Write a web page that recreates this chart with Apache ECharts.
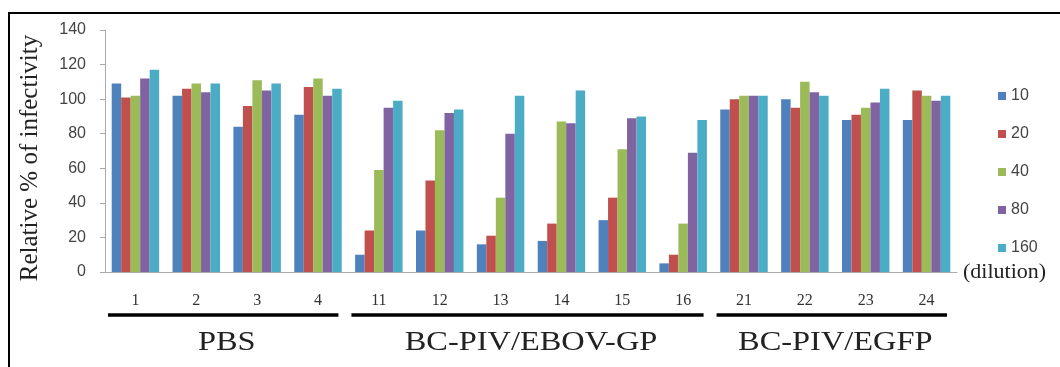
<!DOCTYPE html>
<html>
<head>
<meta charset="utf-8">
<script src="https://cdn.jsdelivr.net/npm/echarts@6/dist/echarts.min.js"></script>
<style>
  html, body { margin: 0; padding: 0; background: #fff; }
  #infectivity { width: 1060px; height: 367px; }
</style>
</head>
<body>
<div id="infectivity"></div>
<script>
// sample numbers on the x axis
var categories = ['1', '2', '3', '4', '11', '12', '13', '14', '15', '16', '21', '22', '23', '24'];
// dilutions (legend)
var dilutions = ['10', '20', '40', '80', '160'];
var colors = ['#4F81BD', '#C0504D', '#9BBB59', '#8064A2', '#4BACC6'];
// relative % of infectivity per dilution
var d10  = [109, 102, 84, 91, 10, 24, 16, 18, 30, 5, 94, 100, 88, 88];
var d20  = [101, 106, 96, 107, 24, 53, 21, 28, 43, 10, 100, 95, 91, 105];
var d40  = [102, 109, 111, 112, 59, 82, 43, 87, 71, 28, 102, 110, 95, 102];
var d80  = [112, 104, 105, 102, 95, 92, 80, 86, 89, 69, 102, 104, 98, 99];
var d160 = [117, 109, 109, 106, 99, 94, 102, 105, 90, 88, 102, 102, 106, 102];
// groups under the axis
var groupNames = ['PBS', 'BC-PIV/EBOV-GP', 'BC-PIV/EGFP'];
var groupFirst = [0, 4, 10];
var groupLast = [3, 9, 13];

var values = [d10, d20, d40, d80, d160];

var myChart = echarts.init(document.getElementById('infectivity'));

var series = [];
for (var i = 0; i < dilutions.length; i++) {
    series.push({
        name: dilutions[i],
        type: 'bar',
        barGap: 0,
        barCategoryGap: '22%',
        itemStyle: { color: colors[i] },
        data: values[i]
    });
}

var option = {
    animation: false,
    color: colors,
    grid: { left: 105, right: 103, top: 30, bottom: 95 },
    legend: {
        orient: 'vertical',
        left: 993,
        top: 83,
        icon: 'rect',
        itemWidth: 8,
        itemHeight: 8,
        itemGap: 22,
        textStyle: { fontSize: 16, lineHeight: 16, color: '#444', fontFamily: 'Liberation Sans' },
        data: dilutions
    },
    xAxis: {
        type: 'category',
        data: categories,
        name: '(dilution)',
        nameLocation: 'end',
        nameGap: 6,
        nameTextStyle: { fontSize: 22, color: '#222', fontFamily: 'Liberation Serif' },
        axisLine: { lineStyle: { color: '#aaa' } },
        axisTick: { length: 4, lineStyle: { color: '#aaa' } },
        axisLabel: { margin: 21, fontSize: 16, color: '#333', fontFamily: 'Liberation Serif' }
    },
    yAxis: {
        type: 'value',
        min: 0,
        max: 140,
        interval: 20,
        name: 'Relative % of infectivity',
        nameLocation: 'middle',
        nameGap: 62,
        nameTextStyle: { fontSize: 25, color: '#222', fontFamily: 'Liberation Serif', padding: [0, 14, 0, 0] },
        axisLine: { show: true, lineStyle: { color: '#aaa' } },
        axisTick: { show: true, length: 5, lineStyle: { color: '#aaa' } },
        axisLabel: { margin: 19, fontSize: 16, color: '#444', fontFamily: 'Liberation Sans' },
        splitLine: { show: false }
    },
    series: series
};
myChart.setOption(option);

// frame, group bars and group names, placed from the category axis
var step = myChart.convertToPixel({ xAxisIndex: 0 }, categories[1]) - myChart.convertToPixel({ xAxisIndex: 0 }, categories[0]);
var lineY = 315;
var graphics = [{
    type: 'rect',
    shape: { x: 9, y: 13, width: 1200, height: 500 },
    style: { fill: 'none', stroke: '#000', lineWidth: 2 }
}];
for (var g = 0; g < groupNames.length; g++) {
    var x0 = myChart.convertToPixel({ xAxisIndex: 0 }, categories[groupFirst[g]]);
    var x1 = myChart.convertToPixel({ xAxisIndex: 0 }, categories[groupLast[g]]);
    graphics.push({
        type: 'line',
        shape: { x1: x0 - step / 2 + 3, y1: lineY, x2: x1 + step / 2 - 10, y2: lineY },
        style: { stroke: '#000', lineWidth: 3.5 }
    });
    graphics.push({
        type: 'text',
        x: (x0 + x1) / 2,
        y: 343,
        scaleX: 1.2,
        style: {
            text: groupNames[g],
            font: '27px "Liberation Serif"',
            fill: '#222',
            align: 'center',
            verticalAlign: 'middle'
        }
    });
}
myChart.setOption({ graphic: graphics });
</script>
</body>
</html>
